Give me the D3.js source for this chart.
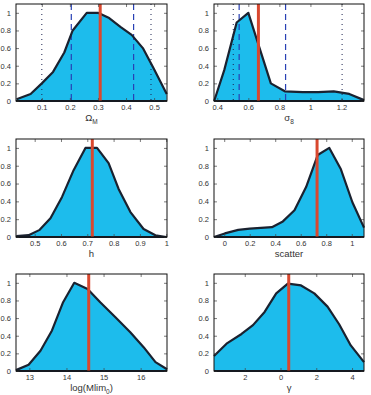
<!DOCTYPE html>
<html>
<head>
<meta charset="utf-8">
<script src="https://cdn.jsdelivr.net/npm/d3@7"></script>
<style>
  body { margin: 0; background: #fff; }
  svg { font-family: "Liberation Sans", Arial, sans-serif; }
  .tick text { fill: #333; font-size: 7.5px; }
</style>
</head>
<body>
<div id="chart"></div>
<script>
// posterior curves
const omX = [0.01, 0.06, 0.10, 0.14, 0.18, 0.21, 0.26, 0.30, 0.34, 0.38, 0.42, 0.46, 0.50, 0.545];
const omY = [0.02, 0.08, 0.2, 0.33, 0.55, 0.8, 1.0, 1.0, 0.94, 0.84, 0.75, 0.6, 0.36, 0.08];

const s8X = [0.38, 0.445, 0.525, 0.60, 0.745, 0.835, 0.95, 1.05, 1.15, 1.25, 1.345];
const s8Y = [0.0, 0.35, 0.89, 1.0, 0.2, 0.11, 0.1, 0.1, 0.11, 0.08, 0.01];

const hX = [0.43, 0.477, 0.519, 0.56, 0.604, 0.648, 0.693, 0.737, 0.781, 0.819, 0.864, 0.914, 0.959, 1.0];
const hY = [0.01, 0.02, 0.08, 0.21, 0.45, 0.75, 1.0, 1.0, 0.83, 0.54, 0.28, 0.09, 0.02, 0.0];

const scX = [-0.08, 0.005, 0.11, 0.2, 0.317, 0.374, 0.46, 0.551, 0.642, 0.733, 0.824, 0.915, 1.005, 1.096];
const scY = [0.0, 0.04, 0.08, 0.095, 0.105, 0.11, 0.175, 0.3, 0.56, 0.92, 1.0, 0.76, 0.39, 0.105];

const mlX = [12.64, 12.98, 13.3, 13.61, 13.91, 14.21, 14.57, 14.91, 15.32, 15.72, 16.08, 16.4, 16.71];
const mlY = [0.01, 0.07, 0.23, 0.46, 0.78, 1.0, 0.93, 0.78, 0.61, 0.44, 0.27, 0.1, 0.02];

const gaX = [-3.72, -3.02, -2.18, -1.54, -0.89, -0.24, 0.41, 1.15, 1.89, 2.63, 3.28, 3.93, 4.67];
const gaY = [0.17, 0.31, 0.42, 0.52, 0.67, 0.88, 0.99, 0.97, 0.88, 0.73, 0.53, 0.29, 0.1];

const yTicks = [0, 0.2, 0.4, 0.6, 0.8, 1];

const panels = [
  { xs: omX, ys: omY, dom: [0.008, 0.546], ticks: [0.1, 0.2, 0.3, 0.4, 0.5], label: "Ω", sub: "M",
    best: 0.308, dashed: [0.205, 0.427], dotted: [0.1, 0.489], box: [16, 4, 167, 101] },
  { xs: s8X, ys: s8Y, dom: [0.379, 1.345], ticks: [0.4, 0.6, 0.8, 1, 1.2], label: "σ", sub: "8",
    best: 0.665, dashed: [0.541, 0.84], dotted: [0.503, 1.204], box: [214, 4, 364, 101] },
  { xs: hX, ys: hY, dom: [0.429, 1.003], ticks: [0.5, 0.6, 0.7, 0.8, 0.9, 1], label: "h", sub: "",
    best: 0.719, dashed: [], dotted: [], box: [16, 139, 167, 237] },
  { xs: scX, ys: scY, dom: [-0.08, 1.096], ticks: [0, 0.2, 0.4, 0.6, 0.8, 1], label: "scatter", sub: "",
    best: 0.728, dashed: [], dotted: [], box: [214, 139, 364, 237] },
  { xs: mlX, ys: mlY, dom: [12.64, 16.71], ticks: [13, 14, 15, 16], label: "log(Mlim", sub: "0", close: ")",
    best: 14.6, dashed: [], dotted: [], box: [16, 274, 167, 371] },
  { xs: gaX, ys: gaY, dom: [-3.72, 4.67], ticks: [-2, 0, 2, 4], label: "γ", sub: "",
    best: 0.46, dashed: [], dotted: [], box: [214, 274, 364, 371], absLabels: true },
];

const svg = d3.select("#chart").append("svg")
  .attr("width", 371).attr("height", 395);

panels.forEach(p => {
  const [x0, y0, x1, y1] = p.box;
  const x = d3.scaleLinear().domain(p.dom).range([x0, x1]);
  const y = d3.scaleLinear().domain([0, 1.1]).range([y1, y0]);
  const g = svg.append("g");

  const pts = p.xs.map((v, i) => [v, p.ys[i]]);

  // filled area
  g.append("path")
    .datum(pts)
    .attr("fill", "#1dbcec")
    .attr("d", d3.area().x(d => x(d[0])).y0(y(0)).y1(d => y(d[1])));

  // confidence lines
  p.dotted.forEach(v => {
    g.append("line")
      .attr("x1", x(v)).attr("x2", x(v)).attr("y1", y0).attr("y2", y1)
      .attr("stroke", "#1b2350").attr("stroke-width", 1)
      .attr("stroke-dasharray", "1,4");
  });
  p.dashed.forEach(v => {
    g.append("line")
      .attr("x1", x(v)).attr("x2", x(v)).attr("y1", y0).attr("y2", y1)
      .attr("stroke", "#2840b4").attr("stroke-width", 1.2)
      .attr("stroke-dasharray", "6,4");
  });

  // outline
  g.append("path")
    .datum(pts)
    .attr("fill", "none")
    .attr("stroke", "#1a2230")
    .attr("stroke-width", 2.2)
    .attr("stroke-linejoin", "round")
    .attr("d", d3.line().x(d => x(d[0])).y(d => y(d[1])));
  g.append("line")
    .attr("x1", x0).attr("x2", x1).attr("y1", y(0)).attr("y2", y(0))
    .attr("stroke", "#1a2230").attr("stroke-width", 2.2);

  // best fit
  g.append("line")
    .attr("x1", x(p.best)).attr("x2", x(p.best)).attr("y1", y0).attr("y2", y1)
    .attr("stroke", "#d9482f").attr("stroke-width", 3);

  // axes, MATLAB style ticks pointing in
  const fmt = p.absLabels ? (d => Math.abs(d)) : (d => d);
  g.append("g").attr("transform", `translate(0,${y1})`)
    .call(d3.axisBottom(x).tickValues(p.ticks).tickSize(-3).tickPadding(4).tickFormat(fmt));
  g.append("g").attr("transform", `translate(${x0},0)`)
    .call(d3.axisLeft(y).tickValues(yTicks).tickSize(-3).tickPadding(5).tickFormat(d => d));
  g.append("g").attr("transform", `translate(0,${y0})`)
    .call(d3.axisTop(x).tickValues(p.ticks).tickSize(-3).tickFormat(""));
  g.append("g").attr("transform", `translate(${x1},0)`)
    .call(d3.axisRight(y).tickValues(yTicks).tickSize(-3).tickFormat(""));
  g.selectAll(".domain").remove();
  g.selectAll(".tick line").attr("stroke", "#444").attr("stroke-width", 0.7);

  g.append("rect")
    .attr("x", x0).attr("y", y0).attr("width", x1 - x0).attr("height", y1 - y0)
    .attr("fill", "none").attr("stroke", "#111").attr("stroke-width", 1);

  // x label
  const t = g.append("text")
    .attr("x", (x0 + x1) / 2).attr("y", y1 + 20)
    .attr("text-anchor", "middle")
    .attr("font-size", 9.5).attr("fill", "#333")
    .text(p.label);
  if (p.sub) {
    t.append("tspan").attr("font-size", 6.5).attr("dy", 2.5).text(p.sub);
    if (p.close) t.append("tspan").attr("dy", -2.5).text(p.close);
  }
});
</script>
</body>
</html>
